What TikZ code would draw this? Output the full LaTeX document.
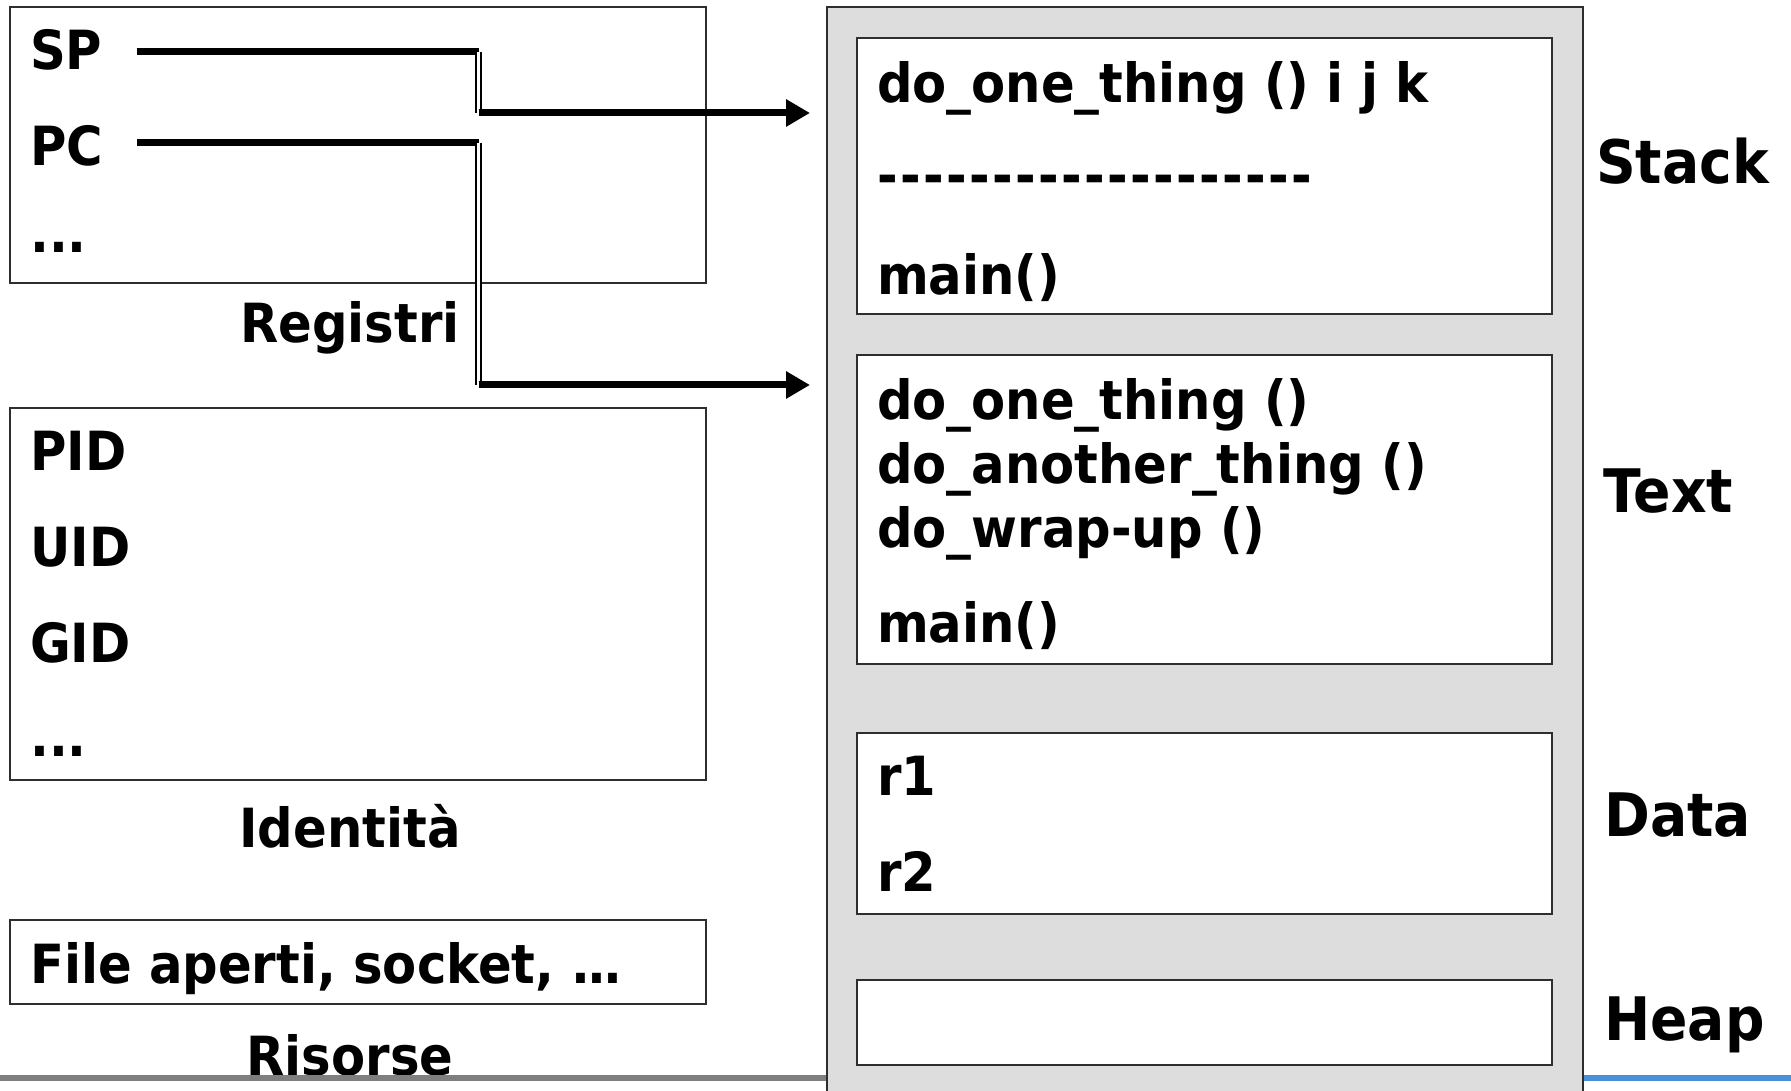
\documentclass[tikz,border=0pt]{standalone}
\usepackage{fontspec}
\setmainfont{DejaVu Sans}[FakeStretch=0.92]
\usetikzlibrary{arrows.meta,positioning}
\definecolor{boxline}{HTML}{2E2E2E}
\definecolor{memfill}{HTML}{DDDDDD}
\definecolor{rulegray}{HTML}{7F7F7F}
\definecolor{ruleblue}{HTML}{4A90D9}

\begin{document}
\begin{tikzpicture}[
  x=1pt, y=1pt,
  every node/.style={inner sep=0pt, font=\fontsize{54}{64}\selectfont\bfseries},
  box/.style={rectangle, draw=boxline, line width=2pt, fill=white},
  leftbox/.style={box, minimum width=696pt},
  segbox/.style={box, minimum width=695pt},
  item/.style={anchor=base west},
  caption/.style={anchor=base},
  seglabel/.style={anchor=base west, font=\fontsize{60}{72}\selectfont\bfseries},
  wire/.style={line width=7pt},
  jog/.style={double, double distance=3.5pt, line width=1.5pt},
]
\useasboundingbox (0,0) rectangle (1791,1091);
\clip (0,0) rectangle (1791,1091);

% Registri
\node[leftbox, minimum height=276pt] (regs) at (358,946) {};
\node[item] (sp) at (30,1021) {SP};
\node[item] (pc) at (30,925) {PC};
\node[item] (regmore) at (30,838) {...};
\node[caption] (regcap) at (350,748) {Registri};

% Identita'
\node[leftbox, minimum height=372pt] (ident) at (358,497) {};
\node[item] (pid) at (30,620) {PID};
\node[item] (uid) at (30,524) {UID};
\node[item] (gid) at (30,428) {GID};
\node[item] (idmore) at (30,334) {...};
\node[caption] (idcap) at (350,243) {Identità};

% Risorse
\node[leftbox, minimum height=84pt] (res) at (358,129) {};
\node[item] (files) at (30,107) {File aperti, socket, .\kern-3pt.\kern-3pt.};
\node[caption] (rescap) at (350,15) {Risorse};

% bottom rule
\draw[line width=6pt, rulegray] (0,13) -- (830,13);
\draw[line width=6pt, ruleblue] (1580,13) -- (1791,13);

% Memory image
\node[draw=boxline, line width=2pt, fill=memfill, minimum width=756pt, minimum height=1110pt] (mem) at (1205,529) {};

\node[segbox, minimum height=276pt] (stack) at (1204.5,915) {};
\node[item] (frame) at (877,988) {do\_one\_thing () i j k};
\node[item] (sep) at (877,896) {\foreach \k in {1,...,19}{-\kern2.4pt}};
\node[item] (mainframe) at (877,796) {main()};

\node[segbox, minimum height=309pt] (code) at (1204.5,581.5) {};
\node[item] (fone) at (877,671) {do\_one\_thing ()};
\node[item] (fanother) at (877,607) {do\_another\_thing ()};
\node[item] (fwrap) at (877,543) {do\_wrap-up ()};
\node[item] (fmain) at (877,448) {main()};

\node[segbox, minimum height=181pt] (data) at (1204.5,267.5) {};
\node[item] (rone) at (877,295) {r1};
\node[item] (rtwo) at (877,199) {r2};

\node[segbox, minimum height=85pt] (heap) at (1204.5,68.5) {};

% Segment names
\node[seglabel] (stacklab) at (1596,907) {Stack};
\node[seglabel] (codelab) at (1603,578) {Text};
\node[seglabel] (datalab) at (1604,254) {Data};
\node[seglabel] (heaplab) at (1604,50) {Heap};

% SP and PC pointers
\coordinate (spbend) at (478.5,1039);
\coordinate (spdrop) at (478.5,978);
\coordinate (sptip) at ([xshift=-16pt]mem.west |- spdrop);
\draw[wire] ([xshift=34pt]sp.east |- spbend) -- (spbend);
\draw[jog] (spbend) -- (spdrop);
\draw[wire, -{Triangle[length=24pt, width=26pt]}] (spdrop) -- (sptip);

\coordinate (pcbend) at (478.5,948);
\coordinate (pcdrop) at (478.5,706);
\coordinate (pctip) at ([xshift=-16pt]mem.west |- pcdrop);
\draw[wire] ([xshift=34pt]pc.east |- pcbend) -- (pcbend);
\draw[jog] (pcbend) -- (pcdrop);
\draw[wire, -{Triangle[length=24pt, width=26pt]}] (pcdrop) -- (pctip);

\end{tikzpicture}
\end{document}
